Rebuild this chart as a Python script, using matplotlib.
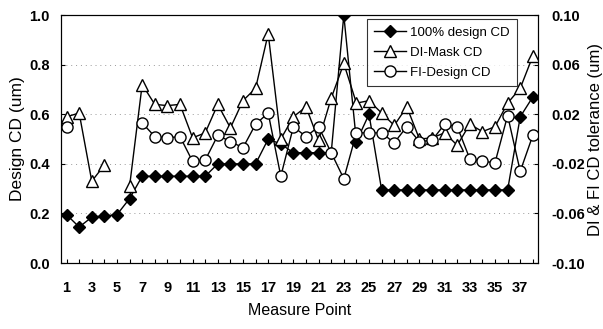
import numpy as np
import matplotlib
matplotlib.use("Agg")
import matplotlib.pyplot as plt

points = np.arange(1, 39)
design_cd = [0.195, 0.145, 0.185, 0.19, 0.195, 0.26, 0.35, 0.35, 0.35, 0.35,
             0.35, 0.35, 0.40, 0.40, 0.40, 0.40, 0.50, 0.48, 0.445, 0.445,
             0.445, 0.445, 1.0, 0.49, 0.60, 0.295, 0.295, 0.295, 0.295, 0.295,
             0.295, 0.295, 0.295, 0.295, 0.295, 0.295, 0.59, 0.67]
di_mask = [0.018, 0.021, -0.034, -0.021, np.nan, -0.038, 0.044, 0.028, 0.027, 0.028,
           0.001, 0.005, 0.028, 0.009, 0.031, 0.041, 0.085, 0.000, 0.018, 0.026,
           -0.001, 0.033, 0.061, 0.029, 0.031, 0.021, 0.011, 0.026, 0.000, 0.001,
           0.005, -0.005, 0.012, 0.006, 0.010, 0.029, 0.041, 0.067]
fi_design = [0.010, np.nan, np.nan, np.nan, np.nan, np.nan, 0.013, 0.002, 0.001, 0.002,
             -0.018, -0.017, 0.003, -0.002, -0.007, 0.012, 0.021, -0.030, 0.010, 0.002,
             0.010, -0.011, -0.032, 0.005, 0.005, 0.005, -0.003, 0.010, -0.002, -0.001,
             0.012, 0.010, -0.016, -0.018, -0.019, 0.019, -0.026, 0.003]

left_ticks = [0.0, 0.2, 0.4, 0.6, 0.8, 1.0]
right_ticks = [-0.10, -0.06, -0.02, 0.02, 0.06, 0.10]
xtick_labels = [str(p) for p in points[::2]]

plt.rcParams["font.family"] = ["Liberation Sans", "DejaVu Sans"]
TICKFONT = dict(family=["Liberation Sans Narrow", "Liberation Sans"], weight="bold", size=10.5)

fig = plt.figure(figsize=(6.03, 3.29), dpi=100)
ax = fig.add_axes([0.101, 0.2006, 0.791, 0.7534])
ax2 = ax.twinx()

ax.plot(points, design_cd, "-D", color="black", lw=1, ms=6.5, mfc="black", label="100% design CD")
ax2.plot(points, di_mask, "-^", color="black", lw=1, ms=8, mfc="white", label="DI-Mask CD")
ax2.plot(points, fi_design, "-o", color="black", lw=1, ms=8, mfc="white", label="FI-Design CD")

ax.set_xlim(0.55, 38.4)
ax.set_ylim(0, 1.0)
ax2.set_ylim(-0.10, 0.10)
ax.set_yticks(left_ticks)
ax.set_yticklabels([f"{v:.1f}" for v in left_ticks], **TICKFONT)
ax2.set_yticks(right_ticks)
ax2.set_yticklabels([f"{v:.2f}" for v in right_ticks], **TICKFONT)
ax.set_xticks(points[::2])
ax.set_xticklabels(xtick_labels, **TICKFONT)
ax.set_xticks(points, minor=True)
ax.tick_params(axis="both", which="both", direction="in", length=3, width=0.8)
ax.tick_params(axis="x", pad=13)
ax.tick_params(axis="y", pad=8)
ax2.tick_params(axis="y", direction="in", length=3, width=0.8, pad=10)
for v in left_ticks[1:-1]:
    ax.axhline(v, color="#999999", ls=(0, (1, 4)), lw=0.7, zorder=0)

ax.set_ylabel("Design CD (um)", fontsize=12.5, labelpad=3)
ax2.set_ylabel("DI & FI CD tolerance (um)", fontsize=12, labelpad=2)
ax.set_xlabel("Measure Point", fontsize=11.5, labelpad=6)

h1, l1 = ax.get_legend_handles_labels()
h2, l2 = ax2.get_legend_handles_labels()
leg = ax2.legend(h1 + h2, l1 + l2, loc="upper right", bbox_to_anchor=(0.956, 0.984),
                 borderaxespad=0, fancybox=False, edgecolor="black", fontsize=9.5,
                 handlelength=2.4, labelspacing=0.6, handletextpad=0.3, borderpad=0.55)
leg.get_frame().set_linewidth(0.8)

fig.savefig("out.png", dpi=100)
